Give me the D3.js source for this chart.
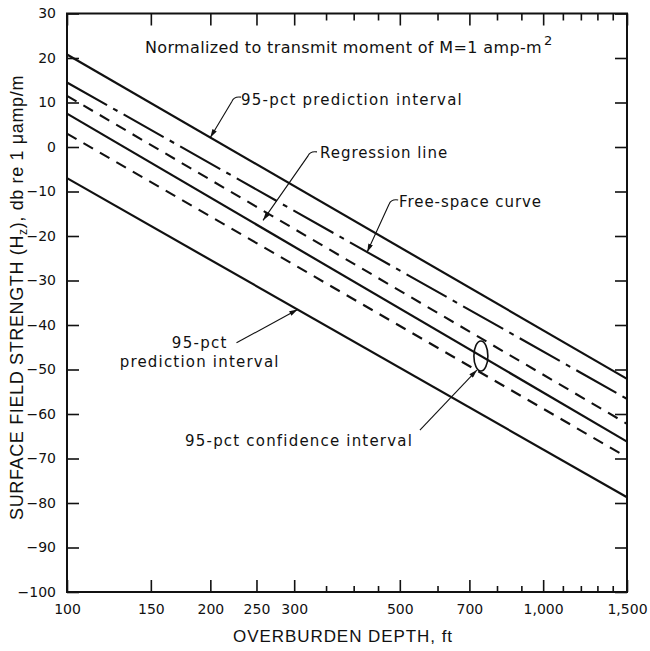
<!DOCTYPE html>
<html><head><meta charset="utf-8">
<script src="https://cdn.jsdelivr.net/npm/d3@7"></script>
<style>
body{margin:0;background:#fff}
text{font-family:"DejaVu Sans",sans-serif;fill:#111}
</style>
</head><body>
<svg id="c" width="650" height="651"></svg>
<script>
// ---------- data ----------
const depthDomain = [100, 1500];
const dbDomain = [-100, 30];
const xMajorTicks = [100, 150, 200, 250, 300, 500, 700, 1000, 1500];
const xMinorTicks = [350, 400, 450, 600, 800, 900, 1100, 1200, 1300, 1400];
const yTicks = [30, 20, 10, 0, -10, -20, -30, -40, -50, -60, -70, -80, -90, -100];
const endDepths = [100, 1500];
const upperPrediction = [20.8, -52.1];
const freeSpace = [14.5, -56.6];
const upperConfidence = [11.5, -62.2];
const regression = [7.5, -66.2];
const lowerConfidence = [3.0, -69.7];
const lowerPrediction = [-7.0, -78.7];

const seriesNames = ["upperPrediction","freeSpace","upperConfidence","regression","lowerConfidence","lowerPrediction"];
const seriesValues = {upperPrediction, freeSpace, upperConfidence, regression, lowerConfidence, lowerPrediction};
const seriesDash = {upperPrediction:null, freeSpace:"46,7,5,7", upperConfidence:"11,8", regression:null, lowerConfidence:"11,8", lowerPrediction:null};

const labelTexts = ["95-pct prediction interval","Regression line","Free-space curve","95-pct","prediction interval","95-pct confidence interval"];
const labelDepths = [232, 340, 498, 166, 129, 177];
const labelDb = [9.4, -2.5, -13.5, -45.2, -49.4, -67.2];
const labelWidths = [222, 128, 143, 56, 160, 228];

// ---------- setup ----------
const svg = d3.select("#c");
const x = d3.scaleLog().domain(depthDomain).range([67, 627]);
const y = d3.scaleLinear().domain(dbDomain).range([592, 13.5]);

function valueAt(name, depth){
  const v = seriesValues[name];
  const t = (Math.log10(depth) - Math.log10(endDepths[0])) / (Math.log10(endDepths[1]) - Math.log10(endDepths[0]));
  return v[0] + (v[1]-v[0])*t;
}
function fit(sel, target){
  const n = sel.node();
  const chars = n.textContent.length;
  sel.style("letter-spacing","0px");
  const len = n.getComputedTextLength();
  const ls = (target - len) / chars;
  sel.style("letter-spacing", ls.toFixed(3) + "px");
  sel.selectAll("tspan").style("letter-spacing", ls.toFixed(3) + "px");
}

// defs arrow
svg.append("defs").append("marker")
  .attr("id","arr").attr("viewBox","0 0 10 6").attr("refX",10).attr("refY",3)
  .attr("markerWidth",9).attr("markerHeight",5).attr("markerUnits","userSpaceOnUse")
  .attr("orient","auto")
  .append("path").attr("d","M0,0 L10,3 L0,6 Z").attr("fill","#111");

// frame
svg.append("rect").attr("x",x(100)).attr("y",y(30))
  .attr("width",x(1500)-x(100)).attr("height",y(-100)-y(30))
  .attr("fill","none").attr("stroke","#111").attr("stroke-width",2);

// axes
function styleAxis(g){ g.select(".domain").remove(); g.selectAll("line").attr("stroke","#111").attr("stroke-width",1.6); g.selectAll("text").attr("font-size",14).attr("fill","#111").attr("font-family","DejaVu Sans, sans-serif"); }
const fmtY = d => d < 0 ? "\u2212" + Math.abs(d) : String(d);

svg.append("g").attr("transform",`translate(0,${y(-100)})`)
  .call(d3.axisBottom(x).tickValues(xMajorTicks).tickSize(-12).tickPadding(12).tickFormat(d3.format(",")))
  .call(styleAxis);
svg.append("g").attr("transform",`translate(0,${y(-100)})`)
  .call(d3.axisBottom(x).tickValues(xMinorTicks).tickSize(-6).tickFormat(""))
  .call(styleAxis);
svg.append("g").attr("transform",`translate(0,${y(30)})`)
  .call(d3.axisTop(x).tickValues(xMajorTicks).tickSize(-12).tickFormat(""))
  .call(styleAxis);
svg.append("g").attr("transform",`translate(0,${y(30)})`)
  .call(d3.axisTop(x).tickValues(xMinorTicks).tickSize(-7).tickFormat(""))
  .call(styleAxis);
svg.append("g").attr("transform",`translate(${x(100)},0)`)
  .call(d3.axisLeft(y).tickValues(yTicks).tickSize(-12).tickPadding(11).tickFormat(fmtY))
  .call(styleAxis);
svg.append("g").attr("transform",`translate(${x(1500)},0)`)
  .call(d3.axisRight(y).tickValues(yTicks).tickSize(-12).tickFormat(""))
  .call(styleAxis);

// lines
const line = d3.line().x(d => x(d[0])).y(d => y(d[1]));
svg.append("g").selectAll("path").data(seriesNames).join("path")
  .attr("d", n => line(endDepths.map((dep,i) => [dep, seriesValues[n][i]])))
  .attr("fill","none").attr("stroke","#111")
  .attr("stroke-width", n => seriesDash[n] ? 2.1 : 2.2)
  .attr("stroke-dasharray", n => seriesDash[n]);

// ellipse marking the confidence interval
const ellDepth = 740;
const ex = x(ellDepth), ey = y(valueAt("regression", ellDepth));
svg.append("ellipse").attr("cx",ex).attr("cy",ey).attr("rx",7).attr("ry",15)
  .attr("fill","none").attr("stroke","#111").attr("stroke-width",1.6);

// labels
labelTexts.forEach((t,i) => {
  const s = svg.append("text").attr("x",x(labelDepths[i])).attr("y",y(labelDb[i]))
    .attr("font-size",15).text(t);
  fit(s, labelWidths[i]);
});

// title note
const note = svg.append("text").attr("x",x(145.8)).attr("y",y(21.1)).attr("font-size",16)
  .text("Normalized to transmit moment of M=1 amp-m");
fit(note, 397);
svg.append("text").attr("x",x(145.8)+399).attr("y",y(21.1)-8).attr("font-size",13).text("2");

// leaders
function hookPath(sx,sy,tx,ty){
  return `M${sx},${sy} Q${sx-7},${sy-1} ${sx-9},${sy+4} L${tx},${ty}`;
}
const leaderStarts = [[232,11.2],[335,-1.1],[496,-11.9]];
const leaderTips = [[200, valueAt("upperPrediction",200)],[258,-16.5],[427, valueAt("freeSpace",427)]];
leaderStarts.forEach((s,i) => {
  svg.append("path").attr("d", hookPath(x(s[0]),y(s[1]),x(leaderTips[i][0]),y(leaderTips[i][1])))
    .attr("fill","none").attr("stroke","#111").attr("stroke-width",1.1).attr("marker-end","url(#arr)");
});
svg.append("line").attr("x1",x(227)).attr("y1",y(-44.0))
  .attr("x2",x(305)).attr("y2",y(valueAt("lowerPrediction",305)))
  .attr("stroke","#111").attr("stroke-width",1.1).attr("marker-end","url(#arr)");
svg.append("line").attr("x1",x(551)).attr("y1",y(-63.6))
  .attr("x2",ex-4).attr("y2",ey+14)
  .attr("stroke","#111").attr("stroke-width",1.1).attr("marker-end","url(#arr)");

// axis titles
const xt = svg.append("text").attr("x",233).attr("y",642).attr("font-size",17)
  .style("font-family","'Liberation Sans', Arial, sans-serif").text("OVERBURDEN DEPTH, ft");
fit(xt, 220);
const yt = svg.append("text").attr("transform","translate(23,520) rotate(-90)")
  .attr("font-size",18).style("font-family","'Liberation Sans', Arial, sans-serif");
yt.append("tspan").text("SURFACE FIELD STRENGTH (H");
yt.append("tspan").attr("font-size",12).attr("dy",4).text("z");
yt.append("tspan").attr("dy",-4).text("), db re 1 \u03bcamp/m");
fit(yt, 445);
</script>
</body></html>
